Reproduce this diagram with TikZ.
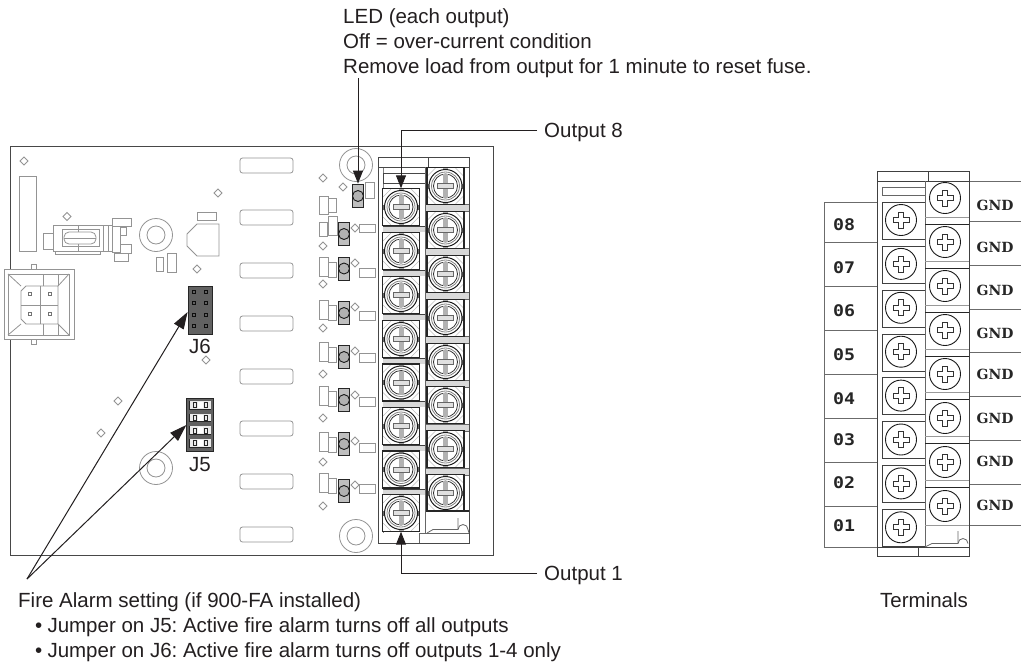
\documentclass[tikz,border=0pt]{standalone}
\usepackage{fontspec}
\setmainfont{Liberation Sans}
\newfontfamily\lblfont[FakeStretch=1.14]{DejaVu Sans Mono}
\newfontfamily\gndfont{DejaVu Serif}
\usetikzlibrary{arrows.meta}
\definecolor{ink}{HTML}{231F20}
\frenchspacing
\tikzset{
  pcb/.style={draw=black!42,line width=0.8pt},
  pcbk/.style={draw=black!42,line width=0.8pt,fill=white},
  boxline/.style={draw=black!72,line width=1pt},
  tline/.style={draw=black!58,line width=1pt},
  callout/.style={draw=ink,line width=1pt,-{Stealth[length=13pt,width=10pt,inset=0pt]}},
  firearrow/.style={draw=ink,line width=1pt,-{Stealth[length=17pt,width=11pt,inset=0pt]}},
  txt/.style={font=\fontsize{20.5}{24}\selectfont,text=ink,inner sep=0pt,anchor=base west},
  jlabel/.style={font=\fontsize{20.5}{24}\selectfont,text=ink,inner sep=0pt,anchor=base},
  outlab/.style={font=\fontsize{20.5}{24}\selectfont,text=ink,inner xsep=7pt,inner ysep=0pt,anchor=west,text height=14.6pt,text depth=0pt},
  numlab/.style={font=\lblfont\bfseries\fontsize{16}{18}\selectfont,text=black!85,inner sep=0pt},
  gndlab/.style={font=\gndfont\bfseries\fontsize{14}{16}\selectfont,text=black!85,inner sep=0pt},
  tipbox/.style={inner sep=0pt,minimum width=37pt,minimum height=37pt},
  ledbox/.style={draw=black!85,fill=black!25,line width=0.9pt,inner sep=0pt,minimum width=11pt,minimum height=23pt},
  jbox/.style={draw=black!85,fill=black!62,line width=0.8pt,inner sep=0pt},
}
\newcommand\dmd[2]{\draw[pcb] (#1,#2) ++(-4,0) -- ++(4,-4) -- ++(4,4) -- ++(-4,4) -- cycle;}
\newcommand\bigscrew[2]{%
  \begin{scope}[shift={(#1,#2)}]
    \fill[white] (-18.5,-18.5) rectangle (18.5,18.5);
    \fill[black!35] (-2.5,-18.5) rectangle (2.5,18.5);
    \fill[black!60] (-18.5,-2.5) rectangle (-15.5,2.5);
    \fill[black!60] (15.5,-2.5) rectangle (18.5,2.5);
    \draw[black!25,line width=0.6pt] (-18,-10) -- (-10,-18) (10,-18) -- (18,-10) (-18,10) -- (-10,18) (10,18) -- (18,10);
    \draw[black!85,line width=1.1pt] (-18.5,-18.5) rectangle (18.5,18.5);
    \draw[black!90,line width=1pt,fill=white] (0,0) circle[radius=16.5];
    \draw[black!50,line width=0.8pt] (0,0) circle[radius=14];
    \draw[black!80,line width=0.8pt] (0,0) circle[radius=12];
    \fill[black!30] (-2.5,-12) rectangle (2.5,12);
    \fill[black!12] (-8,-2.5) rectangle (8,2.5);
    \draw[black!60,line width=0.8pt] (-8,-2.5) rectangle (8,2.5);
  \end{scope}}
\newcommand\plusscrew[2]{%
  \begin{scope}[shift={(#1,#2)}]
    \draw[black!90,line width=0.9pt,fill=white] (0,0) circle[radius=15.5];
    \draw[black!80,line width=0.8pt] (-2.5,-8) -- (2.5,-8) -- (2.5,-2.5) -- (8,-2.5) -- (8,2.5) -- (2.5,2.5) -- (2.5,8) -- (-2.5,8) -- (-2.5,2.5) -- (-8,2.5) -- (-8,-2.5) -- (-2.5,-2.5) -- cycle;
  \end{scope}}
\begin{document}
\begin{tikzpicture}[x=1pt,y=-1pt]
\useasboundingbox (0,0) rectangle (1021,665);
\fill[white] (0,0) rectangle (1021,665);
% board
\draw[draw=black!72,line width=1pt] (10,146) rectangle (493,555);
% PCB furniture
\draw[pcb] (19,176) rectangle (36,251);
\foreach \p/\q in {24/161,67/216.5,218/193,197/269,206/360,118/401,101/433,323/178,343/187,
  355/228,323/246,355/263,323/284,355/307,323/328,355/351,323/374,355/395,323/418,355/441,323/462,355/485,323/506}{\dmd{\p}{\q}}
% relay
\draw[pcb] (43,233) rectangle (53,249);
\draw[pcb] (53,225) rectangle (112,251);
\draw[pcb] (62,229) rectangle (99,246);
\draw[pcb,rounded corners=5pt] (64,232) rectangle (96,244);
\draw[pcb] (64,238) -- (96,238) (78,225) -- (78,232) (78,244) -- (78,251);
\draw[pcb] (55,251) rectangle (100,254);
\draw[pcb] (103,225) -- (103,251) (108,225) -- (108,251);
\draw[pcb] (112,218) rectangle (131,226);
\draw[pcb] (112,226) rectangle (120,252);
\draw[pcb] (120,227) rectangle (126,235);
\draw[pcb] (120,244) rectangle (131,253);
\draw[pcb] (114,253) rectangle (128,261);
% mounting holes
\foreach \p/\q in {156/235,156/468,356/536,356/165}{
  \draw[pcb] (\p,\q) circle[radius=16.5];
  \draw[pcb] (\p,\q) circle[radius=9];}
\draw[pcb] (156,257) rectangle (163,271);
\draw[pcb] (167,253) rectangle (176,272);
\draw[pcb] (197,212) rectangle (216,220);
\draw[pcb] (197,224) -- (219,224) -- (219,256) -- (197,256) -- (187,246) -- (187,234) -- cycle;
% power connector
\draw[pcb] (31,264) rectangle (36,269.5);
\draw[pcb] (31,339) rectangle (36,344);
\draw[pcb] (43,274) arc[start angle=180,end angle=360,x radius=8,y radius=-8];
\draw[pcb] (43,335) arc[start angle=180,end angle=360,x radius=8,y radius=8];
\draw[pcbk] (4.5,269.5) rectangle (74,339);
\draw[pcb] (8,274) rectangle (69,335);
\draw[pcb] (8,274) -- (21,286) (69,274) -- (58,286) (8,335) -- (21,324) (69,335) -- (58,324);
\draw[pcb] (43,274) -- (43,286) (58,274) -- (58,286) (43,324) -- (43,335) (58,324) -- (58,335);
\draw[pcb] (21,291) -- (26,286) -- (58,286) -- (58,324) -- (26,324) -- (21,319) -- cycle;
\draw[pcb] (21,305) -- (58,305) (40,286) -- (40,324);
\foreach \p/\q in {30/294,50/294,30/314,50/314}{\draw[black!55,line width=0.6pt] (\p,\q) ++(-1.5,-1.5) rectangle ++(3,3);}
% rounded rails
\foreach \q in {158,210,263,316,369,421,474,527}{
  \draw[pcb,rounded corners=2.5pt] (240,\q) rectangle (293,\q+15);}
% LED side parts
\draw[pcb] (365,182) rectangle (374,198);
\draw[pcb] (319,196) rectangle (328,214);
\draw[pcb] (328,198) rectangle (336,212);
\draw[pcb] (319,222) rectangle (327,236);
\draw[pcb] (328,216) rectangle (337,235);
\draw[pcb] (359,224) rectangle (375,232);
\foreach \a in {257,300,342,386,432,473}{
  \draw[pcb] (319,\a) rectangle (328,\a+19);
  \draw[pcb] (328,\a+5) rectangle (336,\a+20);
  \draw[pcb] (359,\a+11) rectangle (375,\a+20);}
% LEDs
\node[ledbox,name=led8] at (358,195.5) {};
\draw[black!90,fill=black!30,line width=0.9pt] (358,196) circle[radius=5.5];
\foreach \q in {234,268.5,313,357,400,444,491}{
  \node[ledbox] at (344,\q) {};
  \draw[black!90,fill=black!30,line width=0.9pt] (344,\q) circle[radius=5.5];}
% J6 and J5
\node[jbox,name=jsix,minimum width=24pt,minimum height=48pt] at (200,310) {};
\foreach \p in {194,206}\foreach \q in {292,303,315,326}{
  \draw[black!95,line width=0.7pt] (\p,\q) ++(-1.5,-1.5) rectangle ++(3,3);}
\node[jbox,name=jfive,minimum width=26.5pt,minimum height=53pt] at (200,424.5) {};
\foreach \q in {405,417.7,430.4,443.1}{
  \fill[black!8] (189,\q-4) rectangle (211,\q+4);
  \draw[black!85,line width=0.7pt] (189,\q-4) -- (189,\q+4) -- (211,\q+4);
  \draw[black!85,line width=0.7pt] (193,\q-2.5) rectangle (196.5,\q+2.5);
  \draw[black!85,line width=0.7pt] (204,\q-2.5) rectangle (207.5,\q+2.5);
  \fill[white] (197.5,\q-3) rectangle (203,\q+3);}
% terminal block (left)
\fill[white] (378,157) rectangle (469,543);
\draw[black!50,line width=1pt] (383,167) -- (383,533);
\foreach \q in {226,270,314,358,401,445,489}{
  \fill[black!15] (383,\q) rectangle (425,\q+6);
  \draw[black!75,line width=1pt] (383,\q) -- (425,\q);}
\foreach \q in {204,248,292,336,380,424,468}{
  \fill[black!15] (425,\q) rectangle (469,\q+7);
  \draw[black!60,line width=0.8pt] (425,\q) rectangle (469,\q+7);}
\draw[boxline] (378,157) rectangle (469,543);
\draw[boxline] (378,167) -- (469,167);
\draw[boxline] (428,157) -- (428,167);
\draw[boxline] (383,173) rectangle (425,183);
\draw[black!60,line width=1pt] (425,167) -- (425,533);
\foreach \i/\q in {1/513,2/469.5,3/426,4/382.5,5/339,6/295,7/251,8/207}{
  \bigscrew{401}{\q}
  \node[tipbox,name=s\i] at (401,\q) {};}
\foreach \q in {186,230,274,318,362,405,449,493}{\bigscrew{445.5}{\q}}
\draw[black!85,line width=1.2pt] (427,511) -- (469,511);
\draw[black!60,line width=1pt] (419,533) -- (419,543) (419,533) -- (469,533);
\draw[black!60,line width=0.8pt] (427,533) -- (433,529.5) -- (458,529.5) (458,518) -- (458,529.5);
\draw[black!60,line width=0.8pt] (458,529.5) arc[start angle=180,end angle=360,radius=5] (468,529.5) -- (469,533);
% right terminal diagram
\draw[tline] (824,547) -- (824,202) -- (877,202);
\foreach \q in {242,286,330,374,418,462,506,547}{\draw[tline] (824,\q) -- (877,\q);}
\foreach \t/\q in {08/225,07/268,06/311,05/355,04/399,03/440,02/483,01/526}{
  \node[numlab,name=n\t] at (844,\q) {\t};}
\foreach \q in {181,221,265,309,352,396,440,484,525}{\draw[tline] (969,\q) -- (1021,\q);}
\foreach \q [count=\i] in {205,247,290,333,374,418,461,505}{
  \node[gndlab,name=g\i] at (995,\q) {GND};}
\draw[draw=black!75,line width=1pt] (877,171) rectangle (969,556);
\draw[draw=black!75,line width=1pt] (877,181) -- (969,181);
\draw[draw=black!75,line width=1pt] (928,171) -- (928,181);
\draw[draw=black!75,line width=1pt] (877,547) -- (969,547);
\draw[draw=black!75,line width=1pt] (918,547) -- (918,556);
\draw[draw=black!60,line width=1pt] (925,181) -- (925,547);
\draw[draw=black!60,line width=1pt] (882,187) rectangle (925,195);
\foreach \q in {202,246,290,334,377,421,465,509}{
  \draw[draw=black!75,line width=0.8pt] (925,\q+37) -- (882,\q+37) -- (882,\q) -- (925,\q);}
\foreach \q in {224,268,312,356,399,443,487}{
  \draw[draw=black!85,line width=1pt] (925,\q) -- (969,\q);
  \draw[draw=black!40,line width=0.8pt] (925,\q-7) -- (969,\q-7);}
\draw[draw=black!40,line width=0.8pt] (925,525) -- (969,525);
\draw[draw=black!60,line width=0.8pt] (925,547) -- (932,543.5) -- (958,543.5) (958,531) -- (958,543.5);
\draw[draw=black!60,line width=0.8pt] (958,543.5) arc[start angle=180,end angle=360,radius=5];
\foreach \i in {0,...,7}{
  \plusscrew{901}{220+\i*43.9}
  \plusscrew{945}{198+\i*44}}
% texts
\node[txt,name=ledA] at (343,23) {LED (each output)};
\node[txt,name=ledB] at (343,48) {Off = over-current condition};
\node[txt,name=ledC] at (343,73) {Remove load from output for 1 minute to reset fuse.};
\node[outlab,name=out8] at (537,130) {Output 8};
\node[outlab,name=out1] at (537,573) {Output 1};
\node[jlabel,name=jsixl] at (200,353) {J6};
\node[jlabel,name=jfivel] at (200,471) {J5};
\node[txt,name=fireA] at (18,607) {Fire Alarm setting (if 900-FA installed)};
\node[txt,name=fireB] at (35,632) {•\hspace{0.25em}Jumper on J5: Active fire alarm turns off all outputs};
\node[txt,name=fireC] at (35,657) {•\hspace{0.25em}Jumper on J6: Active fire alarm turns off outputs 1-4 only};
\node[txt,name=term] at (880,607) {Terminals};
% connectors
\coordinate (ledfree) at (358,78);
\coordinate (firefree) at (27,579);
\draw[callout] (ledfree) -- (led8.north);
\draw[callout] (out8.west) -| (s8.north);
\draw[callout] (out1.west) -| (s1.south);
\draw[firearrow] (firefree) -- (jsix.west |- 0,312);
\draw[firearrow] (firefree) -- (jfive.west |- 0,425);
\end{tikzpicture}
\end{document}
